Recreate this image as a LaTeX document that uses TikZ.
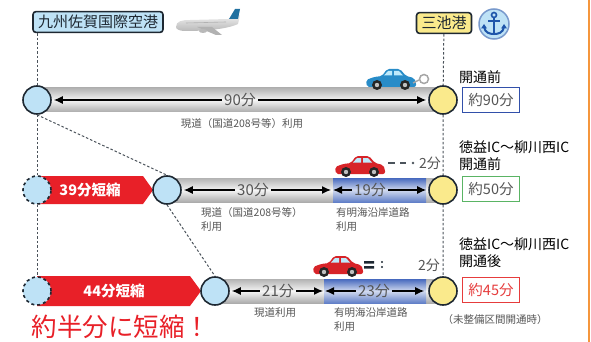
\documentclass[tikz,border=0pt]{standalone}
\usepackage{fontspec}
\setmainfont{Noto Sans CJK JP}
\usetikzlibrary{arrows.meta,calc,positioning}
\definecolor{hellblau}{RGB}{190,226,246}
\definecolor{gelb}{RGB}{250,234,140}
\definecolor{umriss}{RGB}{30,40,50}
\definecolor{textgrau}{RGB}{85,85,85}
\definecolor{kuerzung}{RGB}{232,32,40}
\definecolor{strasse}{RGB}{70,105,190}
\definecolor{autorot}{RGB}{215,35,40}
\definecolor{autoblau}{RGB}{40,140,200}
\definecolor{ankerblau}{RGB}{30,85,170}
\definecolor{rahmenblau}{RGB}{50,80,170}
\definecolor{rahmengruen}{RGB}{90,180,100}
\definecolor{rahmenrot}{RGB}{230,60,60}
\definecolor{randorange}{RGB}{245,150,60}
\colorlet{strasse-hell}{strasse!25}

% kleines Auto, Farbe als Argument
\tikzset{
    pics/auto/.style={code={
        \begin{scope}[yscale=-1]
            \fill[#1, rounded corners=2pt] (-24,3) -- (-25,10) -- (-17,13) -- (-9,14) -- (-4,21) -- (9,21) -- (15,14) -- (23,12) -- (25,8) -- (25,3) -- cycle;
            \fill[white!75!cyan] (-3,19) -- (1,19) -- (1,14.5) -- (-7,14.5) -- cycle;
            \fill[white!75!cyan] (3,19) -- (8,19) -- (12,14.5) -- (3,14.5) -- cycle;
            \foreach \w in {-14,14}{
                \fill[black!85] (\w,5) circle (5);
                \fill[gray!50] (\w,5) circle (2.2);
            }
        \end{scope}
    }}
}

\begin{document}
\begin{tikzpicture}[x=1pt, y=-1pt,
    ort/.style={circle, draw=umriss, line width=1.6pt, fill=hellblau, minimum size=28pt, inner sep=0pt},
    ziel/.style={ort, fill=gelb},
    alt/.style={ort, dashed},
    hafen/.style={draw=umriss, line width=1.6pt, rounded corners=3pt, inner xsep=5pt, inner ysep=3.5pt, text=umriss, font=\fontsize{15}{15}\selectfont},
    minuten/.style={text=textgrau, inner sep=2pt, font=\fontsize{15}{15}\selectfont},
    zeitpfeil/.style={-{Latex[length=9pt,width=8pt]}, line width=1.2pt, black},
    klein/.style={text=textgrau, align=left, inner sep=0pt, font=\fontsize{10.5}{14}\selectfont},
    hinweis/.style={anchor=west, align=left, inner sep=0pt, font=\fontsize{14}{17}\selectfont},
    wert/.style={draw, line width=1.5pt, fill=white, minimum width=57pt, minimum height=25pt, inner sep=0pt, text=textgrau, font=\fontsize{14.5}{15}\selectfont},
    strich/.style={dashed, dash pattern=on 2.5pt off 2pt, line width=1pt, umriss!80},
    kurz/.style={text=white, font=\bfseries\fontsize{14.5}{15}\selectfont}
]
    \useasboundingbox (0,0) rectangle (591,342);

    % Strassen
    \shade[top color=gray!60, bottom color=gray!65, middle color=gray!8] (37,88) rectangle (443,112);
    \shade[top color=gray!60, bottom color=gray!65, middle color=gray!8] (167,178) rectangle (443,202);
    \shade[top color=gray!60, bottom color=gray!65, middle color=gray!8] (215,279) rectangle (443,303);
    \shade[top color=strasse, bottom color=strasse!85, middle color=strasse-hell] (333,178) rectangle (426,202);
    \shade[top color=strasse, bottom color=strasse!85, middle color=strasse-hell] (324,279) rectangle (426,303);

    % Verkuerzung
    \fill[kuerzung] (37,176) -- (143,176) -- (153,190) -- (143,204) -- (37,204) -- cycle;
    \fill[kuerzung] (37,276) -- (190,276) -- (201,291) -- (190,306) -- (37,306) -- cycle;
    \node[kurz] at (90,190) {39分短縮};
    \node[kurz] at (114,291) {44分短縮};

    % Flughafen und Hafen
    \node[hafen, fill=hellblau] (kuko) at (98,22) {九州佐賀国際空港};
    \node[hafen, fill=gelb] (minato) at (444,23) {三池港};

    % Flugzeug
    \shade[top color=gray!12, bottom color=gray!55] (176,27) .. controls (176,21) and (182,20) .. (190,20) -- (228,19) -- (240,15) -- (238,24) .. controls (225,30) and (200,31) .. (185,31) .. controls (179,31) and (176,29) .. (176,27) -- cycle;
    \fill[autoblau!80!black] (229,19) -- (235,9) -- (240,9) -- (238,19) -- cycle;
    \fill[gray!60] (197,27) -- (216,35) -- (222,35) -- (212,27) -- cycle;
    \fill[gray!55] (203,31) ellipse (4 and 2);
    \draw[gray!60, line width=0.6pt] (186,23) -- (226,22);

    % Anker
    \node[circle, fill=hellblau, draw=ankerblau!60, line width=1.5pt, minimum size=30pt] (anker) at (494,24) {};
    \begin{scope}[shift={(anker.center)}, ankerblau, line width=2pt]
        \draw[line width=1.6pt] (0,-9) circle (2.5);
        \draw (0,-6.5) -- (0,10);
        \draw (-6,-3) -- (6,-3);
        \draw (-10,3) .. controls (-9,9) and (-4,10) .. (0,10) .. controls (4,10) and (9,9) .. (10,3);
        \fill (-10,0) -- (-13,4.5) -- (-7,4.5) -- cycle;
        \fill (10,0) -- (13,4.5) -- (7,4.5) -- cycle;
    \end{scope}

    % Orte
    \node[ort] (a1) at (37,100) {};
    \node[ziel] (b1) at (443,100) {};
    \node[alt] (d2) at (37,190) {};
    \node[ort] (a2) at (167,190) {};
    \node[ziel] (b2) at (443,190) {};
    \node[alt] (d3) at (37,291) {};
    \node[ort] (a3) at (215,291) {};
    \node[ziel] (b3) at (443,291) {};

    \draw[strich] (kuko.south -| a1) -- (a1);
    \draw[strich] (a1) -- (d2) (d2) -- (d3);
    \draw[strich] (a1.south) -- (a2.north);
    \draw[strich] (a2.south) -- (a3.north);
    \draw[strich] (minato) -- (b1) (b1) -- (b2) (b2) -- (b3);

    % Fahrzeiten
    \node[minuten] (m90) at (240,100) {90分};
    \draw[zeitpfeil, shorten >=2pt] (m90) -- (a1);
    \draw[zeitpfeil, shorten >=2pt] (m90) -- (b1);

    \coordinate (s2) at (333,190);
    \node[minuten] (m30) at (253,190) {30分};
    \node[minuten] (m19) at (370,190) {19分};
    \draw[zeitpfeil, shorten >=2pt] (m30) -- (a2);
    \draw[zeitpfeil, shorten >=2pt] (m30) -- (s2);
    \draw[zeitpfeil] (m19) -- (s2);
    \draw[zeitpfeil, shorten >=2pt] (m19) -- (b2);

    \coordinate (s3) at (325,291);
    \node[minuten] (m21) at (278,291) {21分};
    \node[minuten] (m23) at (374,291) {23分};
    \draw[zeitpfeil, shorten >=2pt] (m21) -- (a3);
    \draw[zeitpfeil, shorten >=2pt] (m21) -- (s3);
    \draw[zeitpfeil] (m23) -- (s3);
    \draw[zeitpfeil, shorten >=4pt] (m23) -- (b3);

    % Beschriftung unter den Strassen
    \node[klein] at (242,124) {現道（国道208号等）利用};
    \node[klein, anchor=north west] at (201,207) {現道（国道208号等）\\利用};
    \node[klein, anchor=north west] at (336,207) {有明海沿岸道路\\利用};
    \node[klein] at (275,313) {現道利用};
    \node[klein, anchor=north west] at (334,307) {有明海沿岸道路\\利用};
    \node[klein] at (495,320) {（未整備区間開通時）};

    % Autos
    \pic at (391,90) {auto=autoblau};
    \draw[gray!70, line width=1.5pt] (424,79) circle (4.5);
    \draw[gray!70, line width=1.5pt] (413,83) -- (419,80);
    \pic at (360,177) {auto=autorot};
    \draw[umriss!80, line width=2pt] (388,163) -- (395,163) (400,163) -- (406,163);
    \fill[umriss!80] (413,163) circle (1.3);
    \node[minuten, font=\fontsize{14}{14}\selectfont] at (430,163) {2分};
    \pic at (338,277) {auto=autorot};
    \fill[umriss] (364,261) rectangle (374,263.5) (364,266) rectangle (374,268.5);
    \fill[umriss] (382,262) circle (1.2) (382,267) circle (1.2);
    \node[minuten, font=\fontsize{14}{14}\selectfont] at (429,265) {2分};

    % Ergebnis rechts
    \node[hinweis] at (459,77) {開通前};
    \node[wert, draw=rahmenblau] (z1) at (491,100) {約90分};
    \node[hinweis] at (459,156) {徳益IC～柳川西IC\\開通前};
    \node[wert, draw=rahmengruen] (z2) at (491,189) {約50分};
    \node[hinweis] at (459,253) {徳益IC～柳川西IC\\開通後};
    \node[wert, draw=rahmenrot, text=rahmenrot] (z3) at (491,290) {約45分};

    \node[text=kuerzung, font=\fontsize{25.5}{26}\selectfont] at (121,327) {約半分に短縮！};

    \draw[randorange, line width=2pt] (589,0) -- (589,342);

\end{tikzpicture}
\end{document}
